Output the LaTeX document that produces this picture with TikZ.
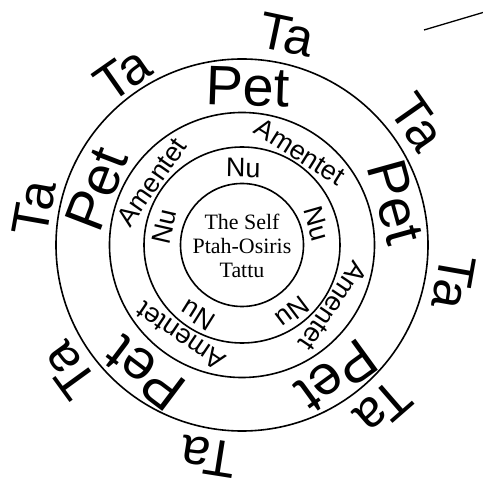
\documentclass[tikz,border=0pt]{standalone}
\usepackage{fontspec}
\setmainfont{Liberation Sans}
\newfontfamily\selfserif{Liberation Serif}

\tikzset{
	ring/.style={
			draw=black,
			line width=1.6bp
		},
	ringword/.style={
			inner sep=0pt,
			text=black
		},
	taword/.style={
			ringword,
			font=\fontsize{52}{52}\selectfont
		},
	petword/.style={
			ringword,
			font=\fontsize{56}{56}\selectfont
		},
	amword/.style={
			ringword,
			font=\fontsize{27}{27}\selectfont
		},
	nuword/.style={
			ringword,
			font=\fontsize{27}{27}\selectfont
		},
	selfnode/.style={
			align=center,
			inner sep=0pt,
			font=\selfserif\fontsize{22}{24}\selectfont
		}
}

\begin{document}
\begin{tikzpicture}[x=1bp, y=1bp]
\useasboundingbox (-242,-242) rectangle (241,245);
\coordinate (c) at (0,0);

\draw[ring] (c) circle[radius=61.5bp];
\draw[ring] (c) circle[radius=98bp];
\draw[ring] (c) circle[radius=132.5bp];
\draw[ring] (c) circle[radius=186bp];

\node[selfnode] (self) at (0,-1) {The Self\\Ptah-Osiris\\Tattu};

% Nu
\node[nuword, rotate=-74] (nu1) at (16:78) {Nu};
\node[nuword, rotate=-1] (nu2) at (89:77) {Nu};
\node[nuword, rotate=77] (nu3) at (167:80) {Nu};
\node[nuword, rotate=148] (nu4) at (238:83) {Nu};
\node[nuword, rotate=217] (nu5) at (307:84) {Nu};

% Amentet
\node[amword, rotate=-32] (am1) at (58:110) {Amentet};
\node[amword, rotate=55] (am2) at (145:110) {Amentet};
\node[amword, rotate=146] (am3) at (236:110) {Amentet};
\node[amword, rotate=236] (am4) at (326:110) {Amentet};

% Pet
\node[petword, rotate=-74.5] (pet1) at (15.5:160) {Pet};
\node[petword, rotate=-2] (pet2) at (88:158) {Pet};
\node[petword, rotate=69] (pet3) at (159:156) {Pet};
\node[petword, rotate=143] (pet4) at (233:161) {Pet};
\node[petword, rotate=216] (pet5) at (306:162) {Pet};

% Ta
\node[taword, rotate=-55] (ta1) at (35:214) {Ta};
\node[taword, rotate=-12] (ta2) at (78:215) {Ta};
\node[taword, rotate=35] (ta3) at (125:208) {Ta};
\node[taword, rotate=80] (ta4) at (170:211) {Ta};
\node[taword, rotate=126] (ta5) at (216:214) {Ta};
\node[taword, rotate=171] (ta6) at (261:214) {Ta};
\node[taword, rotate=221] (ta7) at (311:215) {Ta};
\node[taword, rotate=260] (ta8) at (350:215) {Ta};

\coordinate (s1) at (182,215);
\coordinate (s2) at (241,232.5);
\draw[line width=1.3bp] (s1) -- (s2);
\end{tikzpicture}
\end{document}
